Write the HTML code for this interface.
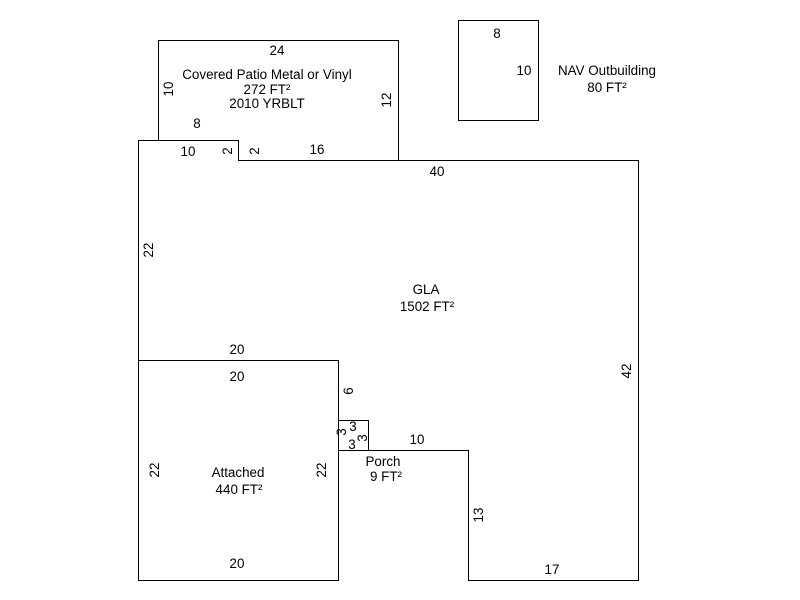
<!DOCTYPE html>
<html><head><meta charset="utf-8"><style>
html,body{margin:0;padding:0;background:#fff;}
svg{display:block;}
text{font-family:"Liberation Sans",Arial,sans-serif;font-size:13.4px;fill:#000;}
</style></head><body>
<svg width="800" height="600" viewBox="0 0 800 600" xmlns="http://www.w3.org/2000/svg">
<g fill="none" stroke="#000" stroke-width="1" shape-rendering="crispEdges">
<polyline points="158.5,140.5 158.5,40.5 398.5,40.5 398.5,160.5"/>
<rect x="458.5" y="20.5" width="80" height="100"/>
<polyline points="138.5,360.5 138.5,140.5 238.5,140.5 238.5,160.5 638.5,160.5 638.5,580.5 468.5,580.5 468.5,450.5 338.5,450.5 338.5,360.5"/>
<rect x="138.5" y="360.5" width="200" height="220"/>
<rect x="338.5" y="420.5" width="30" height="30"/>
</g>
<g text-anchor="middle">
<text x="277" y="55">24</text>
<text x="267" y="79">Covered Patio Metal or Vinyl</text>
<text x="267" y="94">272 FT²</text>
<text x="267" y="108">2010 YRBLT</text>
<text x="197" y="128">8</text>
<text x="188" y="156">10</text>
<text x="317" y="154">16</text>
<text x="437" y="176">40</text>
<text x="497" y="38">8</text>
<text x="524" y="75">10</text>
<text x="607" y="75">NAV Outbuilding</text>
<text x="607" y="92">80 FT²</text>
<text x="426" y="294">GLA</text>
<text x="427" y="311">1502 FT²</text>
<text x="237" y="354">20</text>
<text x="237" y="381">20</text>
<text x="238" y="477">Attached</text>
<text x="239" y="494">440 FT²</text>
<text x="237" y="568">20</text>
<text x="417" y="444">10</text>
<text x="383" y="466">Porch</text>
<text x="386" y="481">9 FT²</text>
<text x="552" y="574">17</text>
<text x="353" y="431">3</text>
<text x="352" y="449">3</text>
<text transform="translate(173,89) rotate(-90)">10</text>
<text transform="translate(391,100) rotate(-90)">12</text>
<text transform="translate(232,151) rotate(-90)">2</text>
<text transform="translate(259,151) rotate(-90)">2</text>
<text transform="translate(153,250) rotate(-90)">22</text>
<text transform="translate(353,391) rotate(-90)">6</text>
<text transform="translate(631,371) rotate(-90)">42</text>
<text transform="translate(159,470) rotate(-90)">22</text>
<text transform="translate(326,470) rotate(-90)">22</text>
<text transform="translate(346,432) rotate(-90)">3</text>
<text transform="translate(367,438) rotate(-90)">3</text>
<text transform="translate(483,515) rotate(-90)">13</text>
</g>
</svg>
</body></html>
